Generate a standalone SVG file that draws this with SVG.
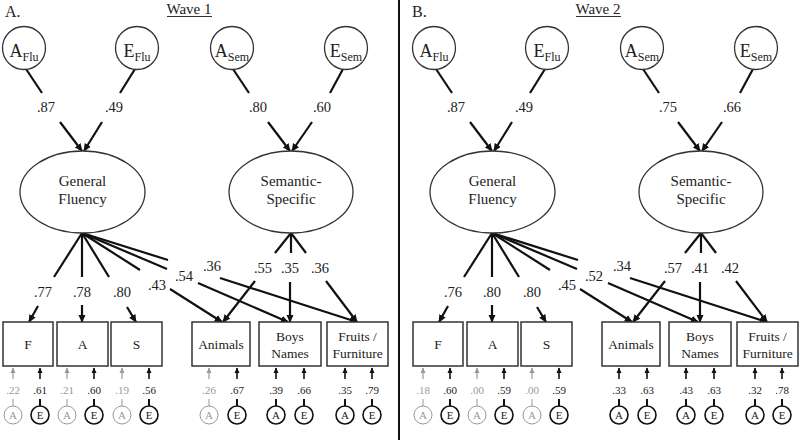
<svg xmlns="http://www.w3.org/2000/svg" width="800" height="440" viewBox="0 0 800 440" font-family="'Liberation Serif', 'DejaVu Serif', serif">
<style>
text{fill:#222}
.lat{fill:#fff;stroke:#333;stroke-width:1.3}
.box{fill:#fff;stroke:#333;stroke-width:1.5}
.c{stroke:#111;stroke-width:2.2;fill:none}
.a{stroke:#111;stroke-width:2.2;fill:none;marker-end:url(#ah)}
.sa{stroke:#111;stroke-width:1.6;fill:none;marker-end:url(#sh)}
.ga{stroke:#999;stroke-width:1.2;fill:none;marker-end:url(#gh)}
.tk{stroke:#111;stroke-width:2;fill:none}
.gt{stroke:#999;stroke-width:1;fill:none}
.ce{fill:#fff;stroke:#111;stroke-width:1.6}
.cg{fill:#fff;stroke:#999;stroke-width:1}
.big{font-size:18px;text-anchor:middle}
.ell{font-size:15px;text-anchor:middle}
.lab{font-size:14.5px;text-anchor:middle}
.bx{font-size:13.5px;text-anchor:middle}
.val{font-size:11px;text-anchor:middle}
.gv{fill:#999}
.sm{font-size:11px;text-anchor:middle}
</style>
<defs>
<marker id="ah" viewBox="0 0 10 10" refX="9" refY="5" markerWidth="8" markerHeight="8" markerUnits="userSpaceOnUse" orient="auto"><path d="M0,0.5 L10,5 L0,9.5 z" fill="#111"/></marker>
<marker id="sh" viewBox="0 0 10 10" refX="9" refY="5" markerWidth="6" markerHeight="6" markerUnits="userSpaceOnUse" orient="auto"><path d="M0,0.5 L10,5 L0,9.5 z" fill="#111"/></marker>
<marker id="gh" viewBox="0 0 10 10" refX="9" refY="5" markerWidth="6" markerHeight="6" markerUnits="userSpaceOnUse" orient="auto"><path d="M0,0.5 L10,5 L0,9.5 z" fill="#999"/></marker>
</defs>
<rect width="800" height="440" fill="#fff"/>
<line x1="399" y1="0" x2="399" y2="440" stroke="#111" stroke-width="2"/>

<!-- ===== Panel A ===== -->
<g id="panelA">
<text x="5" y="17" style="font-size:16px">A.</text>
<text x="189" y="14" style="font-size:15px;text-anchor:middle">Wave 1</text>
<line x1="167" y1="16.5" x2="212" y2="16.5" stroke="#333" stroke-width="1"/>
<g id="connectorsA">
<line class="c" x1="26" y1="69" x2="42" y2="93"/><line class="a" x1="60" y1="122" x2="82" y2="151"/>
<line class="c" x1="135" y1="69" x2="120" y2="93"/><line class="a" x1="102" y1="122" x2="84" y2="151"/>
<line class="c" x1="233" y1="69" x2="249" y2="93"/><line class="a" x1="268" y1="122" x2="290" y2="151"/>
<line class="c" x1="343" y1="69" x2="330" y2="93"/><line class="a" x1="312" y1="122" x2="292" y2="151"/>
<line class="c" x1="82" y1="233" x2="54" y2="277"/><line class="a" x1="38" y1="306" x2="29" y2="322"/>
<line class="c" x1="82" y1="233" x2="82" y2="277"/><line class="a" x1="82" y1="305" x2="82" y2="322"/>
<line class="c" x1="82" y1="233" x2="109" y2="277"/><line class="a" x1="127" y1="307" x2="136" y2="322"/>
<line class="c" x1="82" y1="233" x2="140" y2="270"/><line class="a" x1="170" y1="289" x2="222" y2="322"/>
<line class="c" x1="82" y1="233" x2="167" y2="269"/><line class="a" x1="198" y1="283" x2="288" y2="322"/>
<line class="c" x1="82" y1="233" x2="168" y2="260"/><line class="a" x1="220" y1="278" x2="357" y2="322"/>
<line class="c" x1="291" y1="233" x2="275" y2="253"/><line class="a" x1="255" y1="281" x2="223" y2="322"/>
<line class="c" x1="291" y1="233" x2="291" y2="253"/><line class="a" x1="290" y1="282" x2="290" y2="322"/>
<line class="c" x1="291" y1="233" x2="306" y2="253"/><line class="a" x1="326" y1="281" x2="357" y2="322"/>
<g class="lab">
<text x="46" y="112">.87</text><text x="114" y="112">.49</text><text x="258" y="112">.80</text><text x="322" y="112">.60</text>
<text x="43" y="297">.77</text><text x="82" y="297">.78</text><text x="122" y="297">.80</text>
<text x="157" y="290">.43</text><text x="184" y="281">.54</text><text x="212" y="271">.36</text>
<text x="263" y="273">.55</text><text x="290" y="273">.35</text><text x="320" y="273">.36</text>
</g>
<line class="ga" x1="13" y1="379" x2="13" y2="368"/><line class="sa" x1="40" y1="379" x2="40" y2="368"/>
<line class="ga" x1="67" y1="379" x2="67" y2="368"/><line class="sa" x1="94" y1="379" x2="94" y2="368"/>
<line class="ga" x1="122" y1="379" x2="122" y2="368"/><line class="sa" x1="149" y1="379" x2="149" y2="368"/>
<line class="ga" x1="209" y1="379" x2="209" y2="368"/><line class="sa" x1="237" y1="379" x2="237" y2="368"/>
<line class="sa" x1="276" y1="379" x2="276" y2="368"/><line class="sa" x1="304" y1="379" x2="304" y2="368"/>
<line class="sa" x1="345" y1="379" x2="345" y2="368"/><line class="sa" x1="372" y1="379" x2="372" y2="368"/>
<line class="gt" x1="13" y1="399" x2="13" y2="406"/><line class="tk" x1="40" y1="399" x2="40" y2="406"/>
<line class="gt" x1="67" y1="399" x2="67" y2="406"/><line class="tk" x1="94" y1="399" x2="94" y2="406"/>
<line class="gt" x1="122" y1="399" x2="122" y2="406"/><line class="tk" x1="149" y1="399" x2="149" y2="406"/>
<line class="gt" x1="209" y1="399" x2="209" y2="406"/><line class="tk" x1="237" y1="399" x2="237" y2="406"/>
<line class="tk" x1="276" y1="399" x2="276" y2="406"/><line class="tk" x1="304" y1="399" x2="304" y2="406"/>
<line class="tk" x1="345" y1="399" x2="345" y2="406"/><line class="tk" x1="372" y1="399" x2="372" y2="406"/>
<g class="val">
<text x="13" y="394" class="gv">.22</text><text x="40" y="394">.61</text>
<text x="67" y="394" class="gv">.21</text><text x="94" y="394">.60</text>
<text x="122" y="394" class="gv">.19</text><text x="149" y="394">.56</text>
<text x="209" y="394" class="gv">.26</text><text x="237" y="394">.67</text>
<text x="276" y="394">.39</text><text x="304" y="394">.66</text>
<text x="345" y="394">.35</text><text x="372" y="394">.79</text>
</g>
</g>
<g id="A_AFlu"><circle class="lat" cx="24" cy="48" r="21.5"/><text class="big" x="24" y="57">A<tspan font-size="12" dy="4">Flu</tspan></text></g>
<g id="A_EFlu"><circle class="lat" cx="137" cy="48" r="21.5"/><text class="big" x="137" y="57">E<tspan font-size="12" dy="4">Flu</tspan></text></g>
<g id="A_ASem"><circle class="lat" cx="232" cy="48" r="21.5"/><text class="big" x="232" y="57">A<tspan font-size="12" dy="4">Sem</tspan></text></g>
<g id="A_ESem"><circle class="lat" cx="346" cy="48" r="21.5"/><text class="big" x="346" y="57">E<tspan font-size="12" dy="4">Sem</tspan></text></g>
<g id="A_GF"><ellipse class="lat" cx="82.5" cy="192" rx="62.5" ry="41"/><text class="ell" x="82.5" y="186">General</text><text class="ell" x="82.5" y="204">Fluency</text></g>
<g id="A_SS"><ellipse class="lat" cx="291" cy="192" rx="62" ry="41"/><text class="ell" x="291" y="186">Semantic-</text><text class="ell" x="291" y="204">Specific</text></g>
<g id="A_F"><rect class="box" x="3" y="322" width="50" height="44"/><text class="bx" x="28" y="349">F</text></g>
<g id="A_A"><rect class="box" x="57" y="322" width="51" height="44"/><text class="bx" x="82.5" y="349">A</text></g>
<g id="A_S"><rect class="box" x="111" y="322" width="51" height="44"/><text class="bx" x="136.5" y="349">S</text></g>
<g id="A_Animals"><rect class="box" x="192" y="322" width="58" height="44"/><text class="bx" x="221" y="349">Animals</text></g>
<g id="A_Boys"><rect class="box" x="259" y="322" width="62" height="44"/><text class="bx" x="290" y="341">Boys</text><text class="bx" x="290" y="358">Names</text></g>
<g id="A_Fruits"><rect class="box" x="327" y="322" width="61" height="44"/><text class="bx" x="357.5" y="341">Fruits /</text><text class="bx" x="357.5" y="358">Furniture</text></g>
<g id="A_F_a"><circle class="cg" cx="13" cy="415" r="9"/><text class="sm gv" x="13" y="419">A</text></g>
<g id="A_F_e"><circle class="ce" cx="40" cy="415" r="9"/><text class="sm" x="40" y="419">E</text></g>
<g id="A_A_a"><circle class="cg" cx="67" cy="415" r="9"/><text class="sm gv" x="67" y="419">A</text></g>
<g id="A_A_e"><circle class="ce" cx="94" cy="415" r="9"/><text class="sm" x="94" y="419">E</text></g>
<g id="A_S_a"><circle class="cg" cx="122" cy="415" r="9"/><text class="sm gv" x="122" y="419">A</text></g>
<g id="A_S_e"><circle class="ce" cx="149" cy="415" r="9"/><text class="sm" x="149" y="419">E</text></g>
<g id="A_An_a"><circle class="cg" cx="209" cy="415" r="9"/><text class="sm gv" x="209" y="419">A</text></g>
<g id="A_An_e"><circle class="ce" cx="237" cy="415" r="9"/><text class="sm" x="237" y="419">E</text></g>
<g id="A_Bo_a"><circle class="ce" cx="276" cy="415" r="9"/><text class="sm" x="276" y="419">A</text></g>
<g id="A_Bo_e"><circle class="ce" cx="304" cy="415" r="9"/><text class="sm" x="304" y="419">E</text></g>
<g id="A_Fr_a"><circle class="ce" cx="345" cy="415" r="9"/><text class="sm" x="345" y="419">A</text></g>
<g id="A_Fr_e"><circle class="ce" cx="372" cy="415" r="9"/><text class="sm" x="372" y="419">E</text></g>
</g>

<!-- ===== Panel B ===== -->
<g id="panelB" transform="translate(410,0)">
<text x="2" y="17" style="font-size:16px">B.</text>
<text x="188" y="14" style="font-size:15px;text-anchor:middle">Wave 2</text>
<line x1="166" y1="16.5" x2="211" y2="16.5" stroke="#333" stroke-width="1"/>
<g id="connectorsB">
<line class="c" x1="26" y1="69" x2="42" y2="93"/><line class="a" x1="60" y1="122" x2="82" y2="151"/>
<line class="c" x1="135" y1="69" x2="120" y2="93"/><line class="a" x1="102" y1="122" x2="84" y2="151"/>
<line class="c" x1="233" y1="69" x2="249" y2="93"/><line class="a" x1="268" y1="122" x2="290" y2="151"/>
<line class="c" x1="343" y1="69" x2="330" y2="93"/><line class="a" x1="312" y1="122" x2="292" y2="151"/>
<line class="c" x1="82" y1="233" x2="54" y2="277"/><line class="a" x1="38" y1="306" x2="29" y2="322"/>
<line class="c" x1="82" y1="233" x2="82" y2="277"/><line class="a" x1="82" y1="305" x2="82" y2="322"/>
<line class="c" x1="82" y1="233" x2="109" y2="277"/><line class="a" x1="127" y1="307" x2="136" y2="322"/>
<line class="c" x1="82" y1="233" x2="140" y2="270"/><line class="a" x1="170" y1="289" x2="222" y2="322"/>
<line class="c" x1="82" y1="233" x2="167" y2="269"/><line class="a" x1="198" y1="283" x2="288" y2="322"/>
<line class="c" x1="82" y1="233" x2="168" y2="260"/><line class="a" x1="220" y1="278" x2="357" y2="322"/>
<line class="c" x1="291" y1="233" x2="275" y2="253"/><line class="a" x1="255" y1="281" x2="223" y2="322"/>
<line class="c" x1="291" y1="233" x2="291" y2="253"/><line class="a" x1="290" y1="282" x2="290" y2="322"/>
<line class="c" x1="291" y1="233" x2="306" y2="253"/><line class="a" x1="326" y1="281" x2="357" y2="322"/>
<g class="lab">
<text x="46" y="112">.87</text><text x="114" y="112">.49</text><text x="258" y="112">.75</text><text x="322" y="112">.66</text>
<text x="43" y="297">.76</text><text x="82" y="297">.80</text><text x="122" y="297">.80</text>
<text x="157" y="290">.45</text><text x="184" y="281">.52</text><text x="212" y="271">.34</text>
<text x="263" y="273">.57</text><text x="290" y="273">.41</text><text x="320" y="273">.42</text>
</g>
<line class="ga" x1="13" y1="379" x2="13" y2="368"/><line class="sa" x1="40" y1="379" x2="40" y2="368"/>
<line class="ga" x1="67" y1="379" x2="67" y2="368"/><line class="sa" x1="94" y1="379" x2="94" y2="368"/>
<line class="ga" x1="122" y1="379" x2="122" y2="368"/><line class="sa" x1="149" y1="379" x2="149" y2="368"/>
<line class="sa" x1="209" y1="379" x2="209" y2="368"/><line class="sa" x1="237" y1="379" x2="237" y2="368"/>
<line class="sa" x1="276" y1="379" x2="276" y2="368"/><line class="sa" x1="304" y1="379" x2="304" y2="368"/>
<line class="sa" x1="345" y1="379" x2="345" y2="368"/><line class="sa" x1="372" y1="379" x2="372" y2="368"/>
<line class="gt" x1="13" y1="399" x2="13" y2="406"/><line class="tk" x1="40" y1="399" x2="40" y2="406"/>
<line class="gt" x1="67" y1="399" x2="67" y2="406"/><line class="tk" x1="94" y1="399" x2="94" y2="406"/>
<line class="gt" x1="122" y1="399" x2="122" y2="406"/><line class="tk" x1="149" y1="399" x2="149" y2="406"/>
<line class="tk" x1="209" y1="399" x2="209" y2="406"/><line class="tk" x1="237" y1="399" x2="237" y2="406"/>
<line class="tk" x1="276" y1="399" x2="276" y2="406"/><line class="tk" x1="304" y1="399" x2="304" y2="406"/>
<line class="tk" x1="345" y1="399" x2="345" y2="406"/><line class="tk" x1="372" y1="399" x2="372" y2="406"/>
<g class="val">
<text x="13" y="394" class="gv">.18</text><text x="40" y="394">.60</text>
<text x="67" y="394" class="gv">.00</text><text x="94" y="394">.59</text>
<text x="122" y="394" class="gv">.00</text><text x="149" y="394">.59</text>
<text x="209" y="394">.33</text><text x="237" y="394">.63</text>
<text x="276" y="394">.43</text><text x="304" y="394">.63</text>
<text x="345" y="394">.32</text><text x="372" y="394">.78</text>
</g>
</g>
<g id="B_AFlu"><circle class="lat" cx="24" cy="48" r="21.5"/><text class="big" x="24" y="57">A<tspan font-size="12" dy="4">Flu</tspan></text></g>
<g id="B_EFlu"><circle class="lat" cx="137" cy="48" r="21.5"/><text class="big" x="137" y="57">E<tspan font-size="12" dy="4">Flu</tspan></text></g>
<g id="B_ASem"><circle class="lat" cx="232" cy="48" r="21.5"/><text class="big" x="232" y="57">A<tspan font-size="12" dy="4">Sem</tspan></text></g>
<g id="B_ESem"><circle class="lat" cx="346" cy="48" r="21.5"/><text class="big" x="346" y="57">E<tspan font-size="12" dy="4">Sem</tspan></text></g>
<g id="B_GF"><ellipse class="lat" cx="82.5" cy="192" rx="62.5" ry="41"/><text class="ell" x="82.5" y="186">General</text><text class="ell" x="82.5" y="204">Fluency</text></g>
<g id="B_SS"><ellipse class="lat" cx="291" cy="192" rx="62" ry="41"/><text class="ell" x="291" y="186">Semantic-</text><text class="ell" x="291" y="204">Specific</text></g>
<g id="B_F"><rect class="box" x="3" y="322" width="50" height="44"/><text class="bx" x="28" y="349">F</text></g>
<g id="B_A"><rect class="box" x="57" y="322" width="51" height="44"/><text class="bx" x="82.5" y="349">A</text></g>
<g id="B_S"><rect class="box" x="111" y="322" width="51" height="44"/><text class="bx" x="136.5" y="349">S</text></g>
<g id="B_Animals"><rect class="box" x="192" y="322" width="58" height="44"/><text class="bx" x="221" y="349">Animals</text></g>
<g id="B_Boys"><rect class="box" x="259" y="322" width="62" height="44"/><text class="bx" x="290" y="341">Boys</text><text class="bx" x="290" y="358">Names</text></g>
<g id="B_Fruits"><rect class="box" x="327" y="322" width="61" height="44"/><text class="bx" x="357.5" y="341">Fruits /</text><text class="bx" x="357.5" y="358">Furniture</text></g>
<g id="B_F_a"><circle class="cg" cx="13" cy="415" r="9"/><text class="sm gv" x="13" y="419">A</text></g>
<g id="B_F_e"><circle class="ce" cx="40" cy="415" r="9"/><text class="sm" x="40" y="419">E</text></g>
<g id="B_A_a"><circle class="cg" cx="67" cy="415" r="9"/><text class="sm gv" x="67" y="419">A</text></g>
<g id="B_A_e"><circle class="ce" cx="94" cy="415" r="9"/><text class="sm" x="94" y="419">E</text></g>
<g id="B_S_a"><circle class="cg" cx="122" cy="415" r="9"/><text class="sm gv" x="122" y="419">A</text></g>
<g id="B_S_e"><circle class="ce" cx="149" cy="415" r="9"/><text class="sm" x="149" y="419">E</text></g>
<g id="B_An_a"><circle class="ce" cx="209" cy="415" r="9"/><text class="sm" x="209" y="419">A</text></g>
<g id="B_An_e"><circle class="ce" cx="237" cy="415" r="9"/><text class="sm" x="237" y="419">E</text></g>
<g id="B_Bo_a"><circle class="ce" cx="276" cy="415" r="9"/><text class="sm" x="276" y="419">A</text></g>
<g id="B_Bo_e"><circle class="ce" cx="304" cy="415" r="9"/><text class="sm" x="304" y="419">E</text></g>
<g id="B_Fr_a"><circle class="ce" cx="345" cy="415" r="9"/><text class="sm" x="345" y="419">A</text></g>
<g id="B_Fr_e"><circle class="ce" cx="372" cy="415" r="9"/><text class="sm" x="372" y="419">E</text></g>
</g>
</svg>
